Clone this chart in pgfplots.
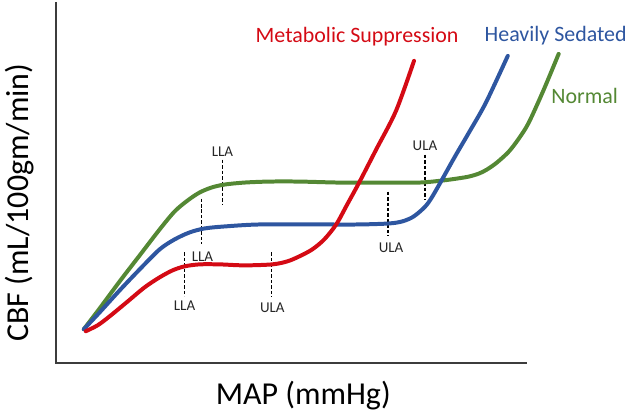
\documentclass[border=0pt]{standalone}
\usepackage{fontspec}
\setmainfont{Carlito}
\usepackage{pgfplots}
\pgfplotsset{compat=1.18}
\definecolor{cred}{RGB}{212,10,20}
\definecolor{cgreen}{RGB}{84,136,52}
\definecolor{cblue}{RGB}{46,86,160}
\definecolor{cax}{RGB}{60,60,60}
\tikzset{small/.style={font=\fontsize{15bp}{17bp}\selectfont, text=black!85},
 dsh/.style={black, line width=1.2bp, dash pattern=on 3.5bp off 2bp}}
\begin{document}
\begin{tikzpicture}
\begin{axis}[
 scale only axis, width=472bp, height=362bp,
 xmin=56, xmax=528, ymin=2, ymax=364, y dir=reverse,
 hide axis, clip=false,
]
\path (axis cs:0,0) rectangle (axis cs:630,411);
% frame
\addplot[cax, line width=1.3bp] coordinates {(56,2) (56,364) (528,364)};
% dashed markers
\addplot[dsh] coordinates {(223,160) (223,205)};
\addplot[dsh] coordinates {(202,199) (202,245)};
\addplot[dsh] coordinates {(185,253) (185,297)};
\addplot[dsh] coordinates {(272,253) (272,298)};
\addplot[dsh] coordinates {(389,192) (389,237)};
\addplot[dsh] coordinates {(426,155) (426,200)};
% green (Normal)
\addplot[cgreen, line width=4bp, smooth, line cap=round] coordinates {
(84,330) (100,309) (120,282) (140,256) (160,230) (175,212) (188,201) (200,193) (212,188) (225,185) (245,183) (270,182) (300,182) (340,183) (380,183) (420,183) (443,181) (458,179) (470,177) (480,174) (488,170) (498,163) (510,152) (520,139) (530,123) (545,90) (560,54)};
% blue (Heavily Sedated)
\addplot[cblue, line width=4bp, smooth, line cap=round] coordinates {
(84,330) (100,313) (120,291) (140,270) (160,250) (175,240) (190,233) (205,229) (225,227) (260,225) (320,225) (360,225) (390,224) (403,222) (413,218) (421,212) (428,205) (434,196) (442,182) (456,157) (470,133) (487,103) (509,56)};
% red (Metabolic Suppression)
\addplot[cred, line width=4bp, smooth, line cap=round] coordinates {
(86,332) (98,326) (110,317) (127,303) (145,288) (160,278) (173,271) (185,267) (200,265) (220,265) (245,266) (273,265) (288,262) (300,257) (313,250) (325,240) (337,225) (348,205) (360,183) (377,150) (397,111) (415,61)};
% small labels
\node[small] at (axis cs:223,152) {LLA};
\node[small] at (axis cs:203,257) {LLA};
\node[small] at (axis cs:185,306) {LLA};
\node[small] at (axis cs:273,308) {ULA};
\node[small] at (axis cs:392,248) {ULA};
\node[small] at (axis cs:426,146) {ULA};
% series labels
\node[anchor=base, text=cred, font=\fontsize{22bp}{26bp}\selectfont] at (axis cs:358,43) {Metabolic Suppression};
\node[anchor=base, text=cblue, font=\fontsize{22bp}{26bp}\selectfont] at (axis cs:557,42) {Heavily Sedated};
\node[anchor=base, text=cgreen, font=\fontsize{22bp}{26bp}\selectfont] at (axis cs:586,104) {Normal};
% axis titles
\node[anchor=base, text=black, font=\fontsize{32bp}{36bp}\selectfont] at (axis cs:304,405) {MAP (mmHg)};
\node[anchor=base, rotate=90, text=black, font=\fontsize{32bp}{36bp}\selectfont] at (axis cs:29,203) {CBF (mL/100gm/min)};
\end{axis}
\end{tikzpicture}
\end{document}
